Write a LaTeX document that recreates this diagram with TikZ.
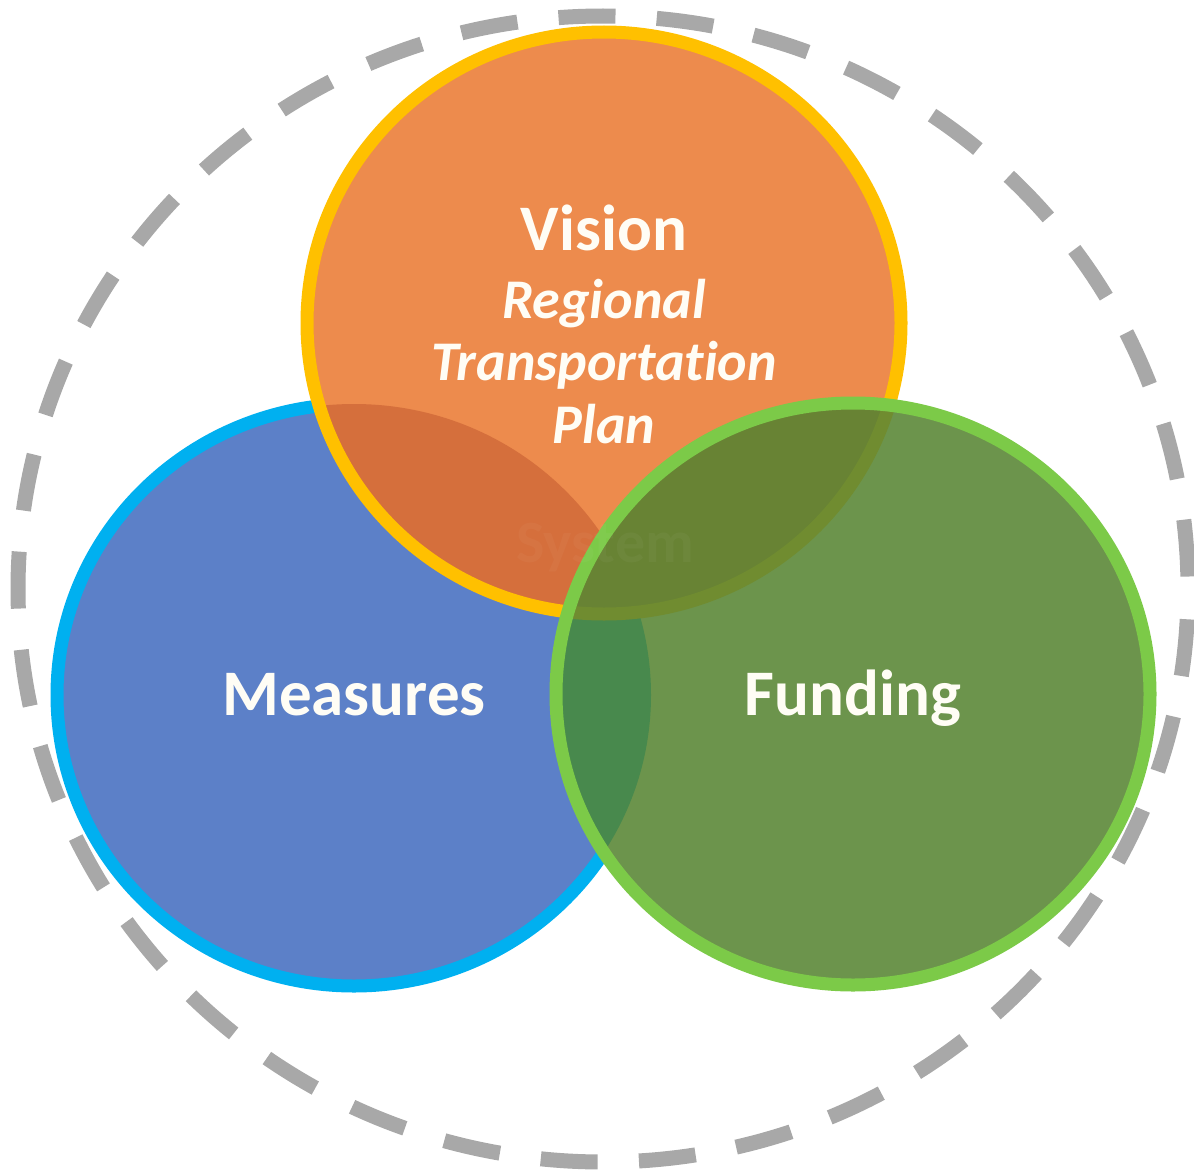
\documentclass[tikz,border=0pt]{standalone}
\usepackage{fontspec}
\setmainfont{Carlito}[Ligatures=NoCommon]
\usepackage{tikz}
\usetikzlibrary{positioning}

\definecolor{ringgray}{RGB}{168,168,168}
\definecolor{visionfill}{RGB}{237,139,77}
\definecolor{visionline}{RGB}{255,192,0}
\definecolor{measfill}{RGB}{92,128,200}
\definecolor{measline}{RGB}{0,176,240}
\definecolor{fundfill}{RGB}{108,148,76}
\definecolor{fundline}{RGB}{124,202,72}
\definecolor{vismeas}{RGB}{213,111,60}
\definecolor{fundvis}{RGB}{104,131,52}
\definecolor{fundmeas}{RGB}{72,137,77}
\definecolor{fundgold}{RGB}{112,140,48}
\definecolor{labeltext}{RGB}{255,253,245}

\begin{document}
\begin{tikzpicture}[
    x=1pt, y=-1pt,
    ring/.style={draw=ringgray, line width=15pt, dash pattern=on 57pt off 41.3pt, dash phase=68pt},
    ringsize/.style={x radius=585, y radius=573},
    blobsize/.style={x radius=297, y radius=291},
    blobline/.style={line width=13pt},
    biglabel/.style={text=labeltext, font=\fontsize{65}{65}\selectfont\bfseries, anchor=base},
    sublabel/.style={text=labeltext, font=\fontsize{56}{63}\selectfont\bfseries\itshape, anchor=base},
]
\useasboundingbox (0,0) rectangle (1194,1172);
\coordinate (mid) at (603,589);
\coordinate (vis) at (604,323);
\coordinate (meas) at (354,695);
\coordinate (fund) at (853,694);

% outer dashed ring
\draw[ring] (mid) ellipse [ringsize];

% measures
\fill[measfill] (meas) ellipse [blobsize];
\draw[measline, blobline] (meas) ellipse [blobsize];

% vision
\fill[visionfill] (vis) ellipse [blobsize];
\begin{scope}
\clip (meas) ellipse [blobsize];
\fill[vismeas] (vis) ellipse [blobsize];
\end{scope}
\draw[visionline, blobline] (vis) ellipse [blobsize];

% funding
\fill[fundfill] (fund) ellipse [blobsize];
\begin{scope}
\clip (fund) ellipse [blobsize];
\fill[fundmeas] (meas) ellipse [blobsize];
\fill[fundvis] (vis) ellipse [blobsize];
\draw[fundgold, blobline] (vis) ellipse [blobsize];
\end{scope}
\draw[fundline, blobline] (fund) ellipse [blobsize];

\node[text=white, opacity=0.035, font=\fontsize{60}{60}\selectfont\bfseries, anchor=base] (system) at (605,562) {System};

\node[biglabel] (vision) at (604,250) {Vision};
\node[sublabel] (regional) at (604,318) {Regional};
\node[sublabel] (transport) at (604,380) {Transportation};
\node[sublabel] (plan) at (604,443) {Plan};
\node[biglabel] (measures) at (354,715) {Measures};
\node[biglabel] (funding) at (853,715) {Funding};
\end{tikzpicture}
\end{document}
